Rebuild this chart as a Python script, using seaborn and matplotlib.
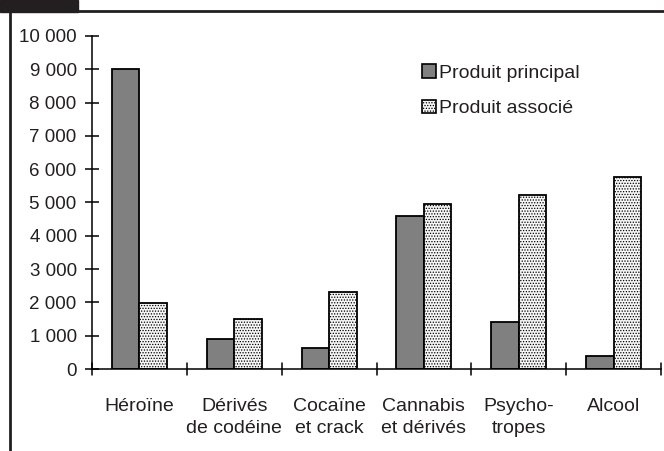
import matplotlib
matplotlib.use("Agg")
import matplotlib.pyplot as plt
from matplotlib.lines import Line2D
from matplotlib.patches import Rectangle
import seaborn as sns
import pandas as pd

categories = ["Héroïne", "Dérivés\nde codéine", "Cocaïne\net crack",
              "Cannabis\net dérivés", "Psycho-\ntropes", "Alcool"]
produit_principal = [9000, 900, 620, 4580, 1400, 380]
produit_associe = [1980, 1500, 2300, 4950, 5220, 5760]
series_names = ["Produit principal", "Produit associé"]
y_ticks = [0, 1000, 2000, 3000, 4000, 5000, 6000, 7000, 8000, 9000, 10000]

df = pd.DataFrame({
    "categorie": categories * 2,
    "serie": [series_names[0]] * len(categories) + [series_names[1]] * len(categories),
    "valeur": produit_principal + produit_associe,
})

INK = "#231f20"

sns.set_style("white")
plt.rcParams["font.family"] = ["Liberation Sans", "DejaVu Sans"]
plt.rcParams["hatch.color"] = "#a0a0a0"
plt.rcParams["hatch.linewidth"] = 0.6

fig = plt.figure(figsize=(6.64, 4.51), dpi=100)
ax = fig.add_axes([92 / 664, 1 - 369 / 451, (661 - 92) / 664, (369 - 36) / 451])

sns.barplot(data=df, x="categorie", y="valeur", hue="serie", order=categories,
            hue_order=series_names, palette=["#808080", "#f6f6f6"],
            width=0.58, saturation=1, edgecolor="black", linewidth=1.3,
            errorbar=None, ax=ax, legend=False)

# dotted fill for the second series
for patch in ax.containers[1]:
    patch.set_hatch("......")

ax.set_xlim(-0.5, len(categories) - 0.5)
ax.set_ylim(0, 10000)
ax.set_yticks(y_ticks)
ax.set_yticklabels([f"{v:,}".replace(",", " ") for v in y_ticks])
ax.set_xticks(range(len(categories)))
ax.set_xticklabels(categories, linespacing=1.34)
ax.set_xlabel("")
ax.set_ylabel("")

ax.tick_params(axis="y", direction="inout", length=10, width=1.1, pad=6,
               labelsize=13.5, color="black", labelcolor=INK, left=True)
ax.tick_params(axis="x", length=0, pad=21, labelsize=14, labelcolor=INK)
# boundary ticks between categories
for b in [i - 0.5 for i in range(len(categories) + 1)]:
    ax.plot([b, b], [-180, 180], color="black", lw=1.1, clip_on=False, zorder=5)

for side in ["top", "right"]:
    ax.spines[side].set_visible(False)
for side in ["left", "bottom"]:
    ax.spines[side].set_color("black")
    ax.spines[side].set_linewidth(1.1)

handles = [Rectangle((0, 0), 1, 1, facecolor="#808080", edgecolor="black", linewidth=1.2),
           Rectangle((0, 0), 1, 1, facecolor="#f6f6f6", edgecolor="black", linewidth=1.2,
                     hatch="......")]
leg = fig.legend(handles, series_names, loc="upper left",
                 bbox_to_anchor=(422 / 664, 1 - 64 / 451),
                 frameon=False, fontsize=14, handlelength=0.72, handleheight=0.72,
                 handletextpad=0.15, labelspacing=0.92, borderaxespad=0, borderpad=0)
for t in leg.get_texts():
    t.set_color(INK)

# page frame
fig.add_artist(Line2D([10 / 664, 10 / 664], [0, 1 - 11 / 451], color=INK, lw=2,
                      transform=fig.transFigure))
fig.add_artist(Line2D([10 / 664, 1], [1 - 11 / 451, 1 - 11 / 451], color=INK, lw=2,
                      transform=fig.transFigure))
fig.add_artist(Rectangle((0, 1 - 12 / 451), 78 / 664, 12 / 451, color=INK,
                         transform=fig.transFigure))

fig.savefig("out.png", dpi=100)
